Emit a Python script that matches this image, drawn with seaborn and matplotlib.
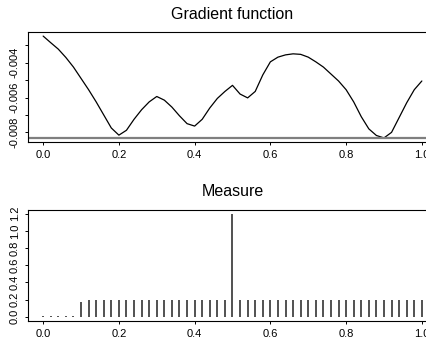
import numpy as np
import pandas as pd
import matplotlib
matplotlib.use("Agg")
import matplotlib.pyplot as plt
import seaborn as sns

# ---- data ----
grid_x = [round(0.02 * i, 2) for i in range(51)]
gradient = [-0.00247, -0.00285, -0.00322, -0.00370, -0.00425, -0.00490,
            -0.00555, -0.00625, -0.00700, -0.00775, -0.00816, -0.00788,
            -0.00725, -0.00670, -0.00625, -0.00594, -0.00615, -0.00655,
            -0.00705, -0.00750, -0.00764, -0.00725, -0.00660, -0.00605,
            -0.00565, -0.00530, -0.00580, -0.00602, -0.00565, -0.00470,
            -0.00395, -0.00368, -0.00355, -0.00349, -0.00352, -0.00368,
            -0.00395, -0.00425, -0.00465, -0.00505, -0.00555, -0.00625,
            -0.00710, -0.00780, -0.00818, -0.00832, -0.00800, -0.00715,
            -0.00630, -0.00555, -0.00505]
bound_level = -0.00830
measure = [0.012] * 5 + [0.175] + [0.2] * 19 + [1.2] + [0.2] * 25
x_ticks = [0.0, 0.2, 0.4, 0.6, 0.8, 1.0]
top_yticks = [-0.008, -0.007, -0.006, -0.005, -0.004, -0.003]
top_ylabels = ["-0.008", "", "-0.006", "", "-0.004", ""]
bot_yticks = [0.0, 0.2, 0.4, 0.6, 0.8, 1.0, 1.2]
bot_ylabels = ["0.0", "0.2", "0.4", "0.6", "0.8", "1.0", "1.2"]

sns.set_style("ticks")
plt.rcParams["font.family"] = ["Liberation Sans", "DejaVu Sans"]
plt.rcParams["text.color"] = "black"
plt.rcParams["xtick.color"] = "black"
plt.rcParams["ytick.color"] = "black"
plt.rcParams["axes.labelcolor"] = "black"

W, H = 427, 345
fig = plt.figure(figsize=(W / 100, H / 100), dpi=100)

def px_axes(left, top, right, bottom):
    return fig.add_axes([left / W, 1 - bottom / H, (right - left) / W, (bottom - top) / H])

ax1 = px_axes(28, 32, 437, 142)
ax2 = px_axes(28, 209.5, 437, 321)

df = pd.DataFrame({"x": grid_x, "g": gradient, "m": measure})

# top panel
sns.lineplot(data=df, x="x", y="g", ax=ax1, color="black", linewidth=0.9)
ax1.axhline(bound_level, color="#7f7f7f", linewidth=1.6)
span = max(gradient) - min(gradient)
ax1.set_ylim(min(gradient) - 0.04 * span, max(gradient) + 0.04 * span)
ax1.set_yticks(top_yticks)
ax1.set_yticklabels(top_ylabels)
ax1.set_title("Gradient function", fontsize=11.5, pad=9.5, color="black")

# bottom panel
ax2.vlines(df["x"], 0, df["m"], color="#222222", linewidth=1.1)
ax2.set_ylim(-0.048, 1.248)
ax2.set_yticks(bot_yticks)
ax2.set_yticklabels(bot_ylabels)
ax2.set_title("Measure", fontsize=11.5, pad=9.5, color="black")

for ax in (ax1, ax2):
    ax.set_xlim(-0.04, 1.04)
    ax.set_xticks(x_ticks)
    ax.set_xticklabels([f"{v:.1f}" for v in x_ticks])
    ax.set_xlabel("")
    ax.set_ylabel("")
    ax.tick_params(axis="both", direction="out", length=2.5, width=0.7,
                   labelsize=8, pad=3.5, color="black", labelcolor="black")
    for lbl in ax.get_yticklabels():
        lbl.set_rotation(90)
        lbl.set_va("center")
        lbl.set_ha("right")
    for s in ("top", "left", "bottom", "right"):
        ax.spines[s].set_visible(True)
        ax.spines[s].set_color("black")
        ax.spines[s].set_linewidth(0.8)

fig.savefig("out.png", dpi=100)
